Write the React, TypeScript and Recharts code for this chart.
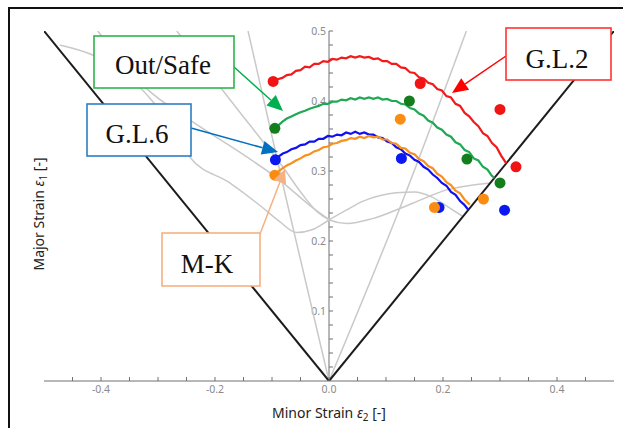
import React from 'react';
import { ComposedChart, LineChart, Line, Scatter, XAxis, YAxis } from 'recharts';

type P = [number, number];
const toXY = (a: P[]) => a.map(([x, y]) => ({ x, y }));

// ---- axis ticks ----
const xTicks = [-0.45, -0.4, -0.35, -0.3, -0.25, -0.2, -0.15, -0.1, -0.05, 0, 0.05, 0.1, 0.15, 0.2, 0.25, 0.3, 0.35, 0.4, 0.45];
const xTickLabels = [-0.4, -0.2, 0, 0.2, 0.4];
const yTicks = [0.02, 0.04, 0.06, 0.08, 0.1, 0.12, 0.14, 0.16, 0.18, 0.2, 0.22, 0.24, 0.26, 0.28, 0.3, 0.32, 0.34, 0.36, 0.38, 0.4, 0.42, 0.44, 0.46, 0.48, 0.5];
const yTickLabels = [0.1, 0.2, 0.3, 0.4, 0.5];

// ---- reference lines (black) ----
const leftLimit: P[] = [[-0.5, 0.5], [0, 0]];
const rightLimit: P[] = [[0, 0], [0.5, 0.5]];

// ---- grey background curves ----
const greyA: P[] = [[-0.142, 0.5], [-0.075, 0.26], [0, 0]];
const greyB: P[] = [[0, 0], [0.13, 0.259], [0.241, 0.5]];
const greyP: P[] = [[-0.4725, 0.48], [-0.4146, 0.4657], [-0.36, 0.44], [-0.31, 0.4], [-0.27, 0.355], [-0.2444, 0.32], [-0.174, 0.283], [-0.12, 0.25], [-0.087, 0.228], [-0.057, 0.212], [-0.03, 0.216], [0, 0.23], [0.03, 0.244], [0.06, 0.257], [0.09, 0.265], [0.118, 0.269], [0.15, 0.27], [0.18, 0.263], [0.21, 0.248], [0.235, 0.235]];
const greyL: P[] = [[-0.4058, 0.5], [-0.3204, 0.418], [-0.2444, 0.373], [-0.1567, 0.327], [-0.0865, 0.287], [-0.0339, 0.251], [0.001, 0.23]];
const greyQ: P[] = [[-0.2672, 0.5], [-0.2444, 0.477], [-0.19, 0.419], [-0.1391, 0.366], [-0.0812, 0.306], [-0.0461, 0.266], [-0.0198, 0.241], [0.001, 0.23], [0.031, 0.225], [0.0767, 0.232], [0.1468, 0.254], [0.2065, 0.273], [0.283, 0.283]];

// ---- measured curves ----
const gl2Curve: P[] = [[-0.098,0.428],[-0.09,0.431],[-0.082,0.433],[-0.074,0.437],[-0.066,0.438],[-0.058,0.443],[-0.05,0.444],[-0.042,0.449],[-0.034,0.448],[-0.026,0.453],[-0.018,0.453],[-0.01,0.457],[-0.002,0.456],[0.006,0.46],[0.014,0.459],[0.022,0.462],[0.03,0.461],[0.038,0.464],[0.046,0.462],[0.054,0.464],[0.062,0.462],[0.07,0.463],[0.078,0.46],[0.086,0.461],[0.094,0.457],[0.102,0.457],[0.11,0.453],[0.118,0.453],[0.126,0.448],[0.134,0.447],[0.142,0.441],[0.15,0.44],[0.158,0.434],[0.166,0.432],[0.174,0.426],[0.182,0.424],[0.19,0.417],[0.198,0.415],[0.206,0.407],[0.214,0.405],[0.222,0.396],[0.23,0.393],[0.238,0.383],[0.246,0.378],[0.254,0.37],[0.262,0.364],[0.27,0.354],[0.278,0.35],[0.286,0.34],[0.294,0.334],[0.302,0.322],[0.311,0.311]];
const outSafeCurve: P[] = [[-0.095,0.361],[-0.088,0.366],[-0.081,0.371],[-0.074,0.375],[-0.066,0.378],[-0.058,0.381],[-0.05,0.384],[-0.042,0.386],[-0.034,0.389],[-0.026,0.391],[-0.018,0.393],[-0.01,0.396],[-0.002,0.396],[0.006,0.399],[0.014,0.399],[0.022,0.402],[0.03,0.401],[0.038,0.404],[0.046,0.402],[0.054,0.405],[0.062,0.403],[0.07,0.405],[0.078,0.403],[0.086,0.405],[0.094,0.402],[0.102,0.403],[0.11,0.4],[0.118,0.4],[0.126,0.396],[0.134,0.395],[0.142,0.39],[0.15,0.388],[0.158,0.382],[0.166,0.379],[0.174,0.372],[0.182,0.369],[0.19,0.362],[0.198,0.359],[0.206,0.352],[0.214,0.349],[0.222,0.341],[0.23,0.338],[0.238,0.33],[0.246,0.327],[0.254,0.318],[0.262,0.315],[0.27,0.306],[0.278,0.302],[0.285,0.294],[0.29,0.29]];
const gl6Curve: P[] = [[-0.094,0.316],[-0.088,0.321],[-0.081,0.325],[-0.074,0.327],[-0.066,0.331],[-0.058,0.333],[-0.05,0.337],[-0.042,0.338],[-0.034,0.342],[-0.026,0.342],[-0.018,0.346],[-0.01,0.346],[-0.002,0.35],[0.006,0.349],[0.014,0.352],[0.022,0.351],[0.03,0.355],[0.038,0.353],[0.046,0.356],[0.054,0.353],[0.062,0.355],[0.07,0.352],[0.078,0.352],[0.086,0.348],[0.094,0.347],[0.102,0.342],[0.11,0.34],[0.118,0.334],[0.126,0.331],[0.134,0.325],[0.142,0.322],[0.15,0.316],[0.158,0.313],[0.166,0.306],[0.174,0.302],[0.182,0.295],[0.19,0.29],[0.198,0.283],[0.206,0.279],[0.214,0.27],[0.222,0.266],[0.23,0.257],[0.237,0.252],[0.244,0.245]];
const mkCurve: P[] = [[-0.095,0.294],[-0.088,0.3],[-0.081,0.304],[-0.074,0.308],[-0.066,0.311],[-0.058,0.315],[-0.05,0.318],[-0.042,0.322],[-0.034,0.324],[-0.026,0.328],[-0.018,0.33],[-0.01,0.334],[-0.002,0.335],[0.006,0.339],[0.014,0.34],[0.022,0.343],[0.03,0.344],[0.038,0.347],[0.046,0.346],[0.054,0.349],[0.062,0.347],[0.07,0.35],[0.078,0.348],[0.086,0.349],[0.094,0.345],[0.102,0.345],[0.11,0.34],[0.118,0.339],[0.126,0.333],[0.134,0.332],[0.142,0.326],[0.15,0.324],[0.158,0.317],[0.166,0.314],[0.174,0.307],[0.182,0.304],[0.19,0.296],[0.198,0.292],[0.206,0.284],[0.214,0.28],[0.222,0.272],[0.23,0.268],[0.238,0.259],[0.247,0.252]];

// ---- experimental points ----
const gl2Points: P[] = [[-0.098, 0.428], [0.16, 0.425], [0.3, 0.388], [0.328, 0.306]];
const outSafePoints: P[] = [[-0.095, 0.361], [0.141, 0.4], [0.242, 0.317], [0.3, 0.283]];
const gl6Points: P[] = [[-0.094, 0.316], [0.127, 0.318], [0.193, 0.248], [0.308, 0.244]];
const mkPoints: P[] = [[-0.095, 0.294], [0.125, 0.374], [0.185, 0.248], [0.271, 0.26]];

const yAxisSpan: P[] = [[0, 0], [0, 0.5]];

const near = (list: number[], v: number) => list.some((l) => Math.abs(l - v) < 1e-9);
const fmtX = (v: number) => (near(xTickLabels, v) ? v.toFixed(1) : '');
const fmtY = (v: number) => (near(yTickLabels, v) ? v.toFixed(1) : '');

const tickStyle = { fontSize: 10.5, fill: '#8a8a8a', fontFamily: 'Noto Sans' };
const axisColor = '#707070';

const XTitle = (props: any) => {
  const vb = props.viewBox || { x: 44, y: 381, width: 570 };
  const cx = vb.x + vb.width / 2;
  const y = vb.y + 37;
  return (
    <text x={cx} y={y} textAnchor="middle" fontFamily="Noto Sans" fontSize={14} fill="#222">
      Minor Strain <tspan fontStyle="italic">ε</tspan>
      <tspan fontSize={10} dy={3}>2</tspan>
      <tspan dy={-3}> [-]</tspan>
    </text>
  );
};

const dotShape = (color: string) => (p: any) => <circle cx={p.cx} cy={p.cy} r={5.5} fill={color} />;

const Arrow = ({ x1, y1, x2, y2, color, len = 16, w = 14 }: any) => {
  const dx = x2 - x1;
  const dy = y2 - y1;
  const d = Math.sqrt(dx * dx + dy * dy);
  const ux = dx / d;
  const uy = dy / d;
  const bx = x2 - ux * len;
  const by = y2 - uy * len;
  const px = -uy * (w / 2);
  const py = ux * (w / 2);
  return (
    <g>
      <line x1={x1} y1={y1} x2={bx} y2={by} stroke={color} strokeWidth={1.5} />
      <polygon points={`${x2},${y2} ${bx + px},${by + py} ${bx - px},${by - py}`} fill={color} />
    </g>
  );
};

const Box = ({ x, y, w, h, color, label, tx, ty }: any) => (
  <g>
    <rect x={x} y={y} width={w} height={h} fill="#fff" stroke={color} strokeWidth={1.6} />
    <text x={tx} y={ty} textAnchor="middle" fontFamily="Liberation Serif" fontSize={27} fill="#111">
      {label}
    </text>
  </g>
);

export default function App() {
  const grey = '#c9c9c9';
  return (
    <div style={{ position: 'fixed', left: 0, top: 0, width: 623, height: 428, background: '#fff', overflow: 'hidden' }}>
      <div style={{ position: 'absolute', left: 0, top: 0 }}>
        <LineChart width={623} height={428} margin={{ top: 31, right: 9, bottom: 47, left: 299 }}>
          <XAxis type="number" dataKey="x" domain={[0, 1]} hide />
          <YAxis
            type="number"
            dataKey="y"
            domain={[0, 0.5]}
            ticks={yTicks}
            interval={0}
            tickFormatter={fmtY}
            width={30}
            axisLine={{ stroke: axisColor }}
            tickLine={{ stroke: axisColor }}
            tickSize={-4}
            tickMargin={7}
            tick={tickStyle}
            allowDataOverflow
          />
          <Line data={toXY(yAxisSpan)} dataKey="y" stroke="none" dot={false} isAnimationActive={false} />
        </LineChart>
      </div>
      <div style={{ position: 'absolute', left: 0, top: 0 }}>
        <ComposedChart width={623} height={428} margin={{ top: 31, right: 9, bottom: 17, left: 44 }}>
          <XAxis
            type="number"
            dataKey="x"
            domain={[-0.5, 0.5]}
            ticks={xTicks}
            interval={0}
            tickFormatter={fmtX}
            height={30}
            axisLine={{ stroke: axisColor }}
            tickLine={{ stroke: axisColor }}
            tickSize={-4}
            tickMargin={9}
            tick={tickStyle}
            allowDataOverflow
            label={<XTitle />}
          />
          <YAxis type="number" dataKey="y" domain={[0, 0.5]} hide width={0} allowDataOverflow />
          <Line data={toXY(greyA)} dataKey="y" stroke={grey} strokeWidth={1.5} dot={false} isAnimationActive={false} type="linear" />
          <Line data={toXY(greyB)} dataKey="y" stroke={grey} strokeWidth={1.5} dot={false} isAnimationActive={false} type="monotoneX" />
          <Line data={toXY(greyP)} dataKey="y" stroke={grey} strokeWidth={1.5} dot={false} isAnimationActive={false} type="monotoneX" />
          <Line data={toXY(greyL)} dataKey="y" stroke={grey} strokeWidth={1.5} dot={false} isAnimationActive={false} type="monotoneX" />
          <Line data={toXY(greyQ)} dataKey="y" stroke={grey} strokeWidth={1.5} dot={false} isAnimationActive={false} type="monotoneX" />
          <Line data={toXY(leftLimit)} dataKey="y" stroke="#1c1c1c" strokeWidth={2} dot={false} isAnimationActive={false} type="linear" />
          <Line data={toXY(rightLimit)} dataKey="y" stroke="#1c1c1c" strokeWidth={2} dot={false} isAnimationActive={false} type="linear" />
          <Line data={toXY(gl2Curve)} dataKey="y" stroke="#f21a1a" strokeWidth={2.2} dot={false} isAnimationActive={false} type="linear" />
          <Line data={toXY(outSafeCurve)} dataKey="y" stroke="#1fa955" strokeWidth={2.2} dot={false} isAnimationActive={false} type="linear" />
          <Line data={toXY(gl6Curve)} dataKey="y" stroke="#1010f0" strokeWidth={2.2} dot={false} isAnimationActive={false} type="linear" />
          <Line data={toXY(mkCurve)} dataKey="y" stroke="#f7901e" strokeWidth={2.2} dot={false} isAnimationActive={false} type="linear" />
          <Scatter data={toXY(gl2Points)} dataKey="y" shape={dotShape('#f01414')} isAnimationActive={false} />
          <Scatter data={toXY(outSafePoints)} dataKey="y" shape={dotShape('#147d1c')} isAnimationActive={false} />
          <Scatter data={toXY(gl6Points)} dataKey="y" shape={dotShape('#0c18f0')} isAnimationActive={false} />
          <Scatter data={toXY(mkPoints)} dataKey="y" shape={dotShape('#fb8c12')} isAnimationActive={false} />
        </ComposedChart>
      </div>
      <svg width={623} height={428} style={{ position: 'absolute', left: 0, top: 0, pointerEvents: 'none' }}>
        <rect x={9} y={8} width={660} height={460} fill="none" stroke="#111" strokeWidth={2} />
        <text transform="translate(44,214) rotate(-90)" textAnchor="middle" fontFamily="Noto Sans" fontSize={14} fill="#222">
          Major Strain <tspan fontStyle="italic">ε</tspan>
          <tspan fontSize={10} dy={3}>1</tspan>
          <tspan dy={-3}> [-]</tspan>
        </text>
        <Arrow x1={234} y1={67} x2={283} y2={111} color="#00b050" />
        <Arrow x1={191} y1={128} x2={278} y2={152} color="#0070c0" />
        <Arrow x1={506} y1={56} x2={452} y2={93} color="#ff0000" />
        <Arrow x1={260} y1={234} x2={285} y2={169} color="#f4b183" len={14} w={13} />
        <Box x={94} y={36} w={140} h={52} color="#2fb34e" label="Out/Safe" tx={163} ty={74} />
        <Box x={87} y={104} w={104} h={52} color="#2c7fc1" label="G.L.6" tx={137} ty={143} />
        <Box x={506} y={28} w={105} h={52} color="#ff3333" label="G.L.2" tx={557} ty={68} />
        <Box x={162} y={233} w={98} h={53} color="#f5b183" label="M-K" tx={207} ty={273} />
      </svg>
    </div>
  );
}
